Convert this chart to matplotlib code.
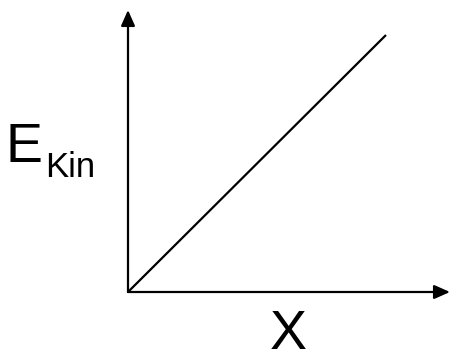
import matplotlib
matplotlib.use("Agg")
import matplotlib.pyplot as plt

# Data
line_x = [0.0, 1.0]
line_y = [0.0, 1.0]
y_label_main = "E"
y_label_sub = "Kin"
x_label = "X"

W, H = 451, 350
fig = plt.figure(figsize=(W / 100, H / 100), dpi=100)
plt.rcParams['font.family'] = ['Liberation Sans', 'DejaVu Sans']

ox, oy = 128, 292
ex, ey = 386, 35
ax = fig.add_axes([ox / W, 1 - oy / H, (ex - ox) / W, (oy - ey) / H])
ax.set_xlim(0, 1)
ax.set_ylim(0, 1)
ax.axis('off')

ax.plot(line_x, line_y, color='black', lw=1.6, solid_capstyle='butt', clip_on=False)

x_tip = (450 - ox) / (ex - ox)
y_tip = (oy - 10) / (oy - ey)
arrow = dict(arrowstyle='-|>,head_length=0.95,head_width=0.42', color='black', lw=1.6,
             shrinkA=0, shrinkB=0)
ax.annotate('', xy=(x_tip, 0), xytext=(0, 0), xycoords='data', arrowprops=arrow,
            annotation_clip=False)
ax.annotate('', xy=(0, y_tip), xytext=(0, 0), xycoords='data', arrowprops=arrow,
            annotation_clip=False)

fig.text(6 / W, 1 - 162 / H, y_label_main, fontsize=40, ha='left', va='baseline')
fig.text(45 / W, 1 - 177 / H, y_label_sub, fontsize=25, ha='left', va='baseline')
fig.text(288.5 / W, 1 - 349 / H, x_label, fontsize=40, ha='center', va='baseline')

fig.savefig('out.png', dpi=100)
